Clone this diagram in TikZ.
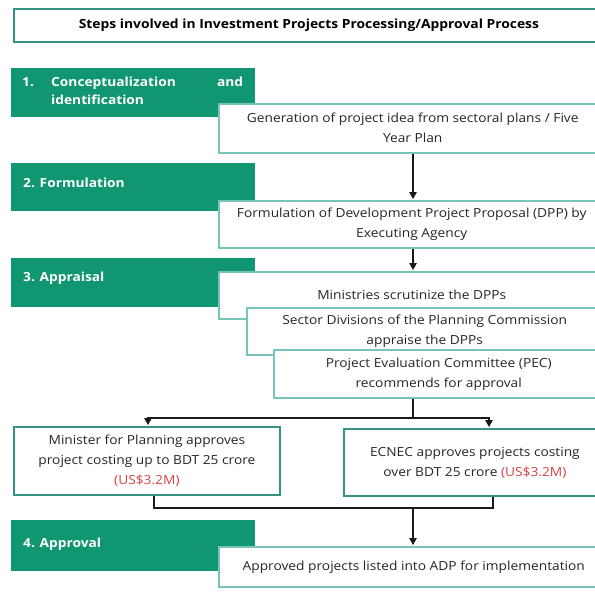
\documentclass[tikz,border=0pt]{standalone}
\usepackage{fontspec}
\setmainfont{Open Sans}[FakeStretch=1.1]
\usetikzlibrary{arrows.meta}

\definecolor{stepgreen}{RGB}{16,150,112}
\definecolor{boxteal}{RGB}{120,196,184}
\definecolor{darkteal}{RGB}{52,146,128}
\definecolor{costred}{RGB}{214,66,66}
\definecolor{bodytext}{RGB}{38,38,38}

\newcommand{\bodyfont}{\fontsize{12.5}{20}\selectfont}
\newcommand{\labelfont}{\bfseries\fontsize{12.5}{18}\selectfont}

\tikzset{
  phase/.style={fill=stepgreen, draw=none, anchor=north west,
    minimum width=244pt, minimum height=49pt, inner sep=0pt},
  phaselabel/.style={text=white, font=\labelfont, anchor=west,
    inner sep=0pt, align=left},
  stepbox/.style={draw=boxteal, line width=1.5pt, fill=white,
    anchor=north west, align=center, inner sep=0pt,
    font=\bodyfont, text=bodytext},
  decisionbox/.style={stepbox, draw=darkteal, line width=1.8pt},
  titlebox/.style={draw=darkteal, line width=1.8pt, fill=white,
    anchor=north west, inner sep=0pt,
    font=\bfseries\fontsize{12.6}{16}\selectfont, text=black},
  flow/.style={draw=black!90, line width=1.1pt},
  arr/.style={flow, -{Triangle[length=7pt,width=7.5pt]}, shorten >=1pt},
}

\begin{document}
\begin{tikzpicture}[x=1pt,y=-1pt]
  \useasboundingbox (0,0) rectangle (595,592);
  \clip (0,0) rectangle (595,592);
  \fill[white] (0,0) rectangle (595,592);

  % heading
  \node[titlebox, minimum width=590pt, minimum height=33pt] (title) at (13,8)
    {Steps involved in Investment Projects Processing/Approval Process};

  % 1. conceptualization
  \node[phase] (p1) at (11,68) {};
  \node[phaselabel] (l1) at (22,91)
    {\makebox[221pt]{\makebox[29pt][l]{1.}Conceptualization\hfill and}\\
     \makebox[221pt][l]{\hspace*{29pt}identification}};
  \node[stepbox, minimum width=388pt, minimum height=49pt] (b1) at (218,103)
    {Generation of project idea from sectoral plans / Five\\Year Plan};

  % 2. formulation
  \node[phase, minimum height=48pt] (p2) at (11,163) {};
  \node[phaselabel] (l2) at (23,183) {2. Formulation};
  \node[stepbox, minimum width=386pt, minimum height=47pt] (b2) at (218,200)
    {Formulation of Development Project Proposal (DPP) by\\Executing Agency};

  % 3. appraisal
  \node[phase] (p3) at (11,258) {};
  \node[phaselabel] (l3) at (23,278) {3. Appraisal};
  \node[stepbox, minimum width=386pt, minimum height=47pt] (b3a) at (218,271)
    {Ministries scrutinize the DPPs};
  \node[stepbox, minimum width=356pt, minimum height=47pt] (b3b) at (246,307)
    {Sector Divisions of the Planning Commission\\appraise the DPPs};
  \node[stepbox, minimum width=330pt, minimum height=48pt] (b3c) at (273,349)
    {Project Evaluation Committee (PEC)\\recommends for approval};

  % approving authorities
  \node[decisionbox, minimum width=266pt, minimum height=68pt] (min) at (13,426)
    {Minister for Planning approves\\project costing up to BDT 25 crore\\
     \textcolor{costred}{(US\$3.2M)}};
  \node[decisionbox, minimum width=262pt, minimum height=67pt] (ecn) at (343,428)
    {ECNEC approves projects costing\\over BDT 25 crore
     \textcolor{costred}{(US\$3.2M)}};

  % 4. approval
  \node[phase, minimum height=51pt] (p4) at (11,520) {};
  \node[phaselabel] (l4) at (23,544) {4. Approval};
  \node[stepbox, minimum width=390pt, minimum height=40pt] (b4) at (218,546)
    {Approved projects listed into ADP for implementation};

  % connectors
  \coordinate (col) at (413,0);
  \coordinate (split) at (413,418);
  \coordinate (lx) at (148,0);
  \coordinate (rx) at (489,0);
  \coordinate (join) at (413,508);
  \coordinate (ljx) at (154,0);
  \coordinate (rjx) at (493,0);

  \draw[arr] (b1.south -| col) -- (b2.north -| col);
  \draw[arr] (b2.south -| col) -- (b3a.north -| col);
  \draw[flow] (b3c.south -| col) -- (split);
  \draw[arr] (split) -| (min.north -| lx);
  \draw[arr] (split) -| (ecn.north -| rx);
  \draw[flow] (min.south -| ljx) |- (join) -| (ecn.south -| rjx);
  \draw[arr] (join) -- (b4.north -| join);
\end{tikzpicture}
\end{document}
